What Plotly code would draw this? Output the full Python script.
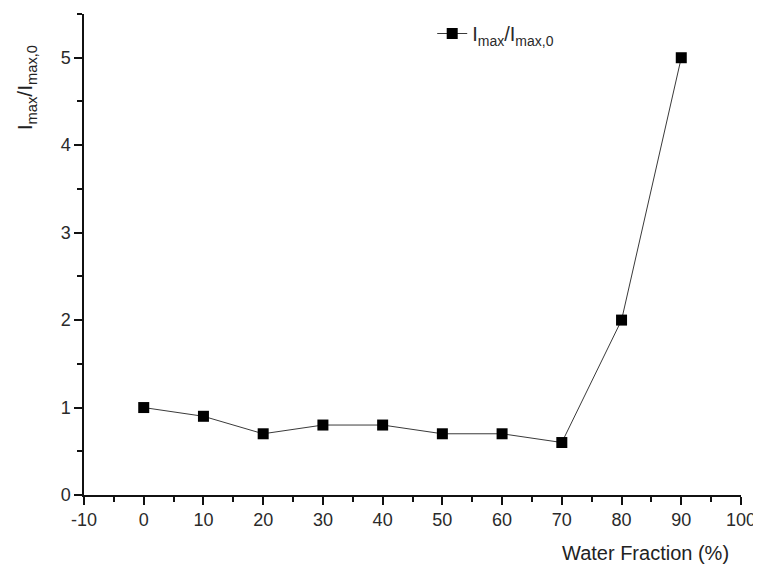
import plotly.graph_objects as go

water_fraction = [0, 10, 20, 30, 40, 50, 60, 70, 80, 90]
intensity_ratio = [1.0, 0.9, 0.7, 0.8, 0.8, 0.7, 0.7, 0.6, 2.0, 5.0]
series_name = "I<sub>max</sub>/I<sub>max,0</sub>"
x_ticks = [-10, 0, 10, 20, 30, 40, 50, 60, 70, 80, 90, 100]
x_tick_text = ["-10", "0", "10", "20", "30", "40", "50", "60", "70", "80", "90", "100"]
y_ticks = [0, 1, 2, 3, 4, 5]

fig = go.Figure()
fig.add_trace(go.Scatter(
    x=water_fraction, y=intensity_ratio, mode="lines+markers",
    name=series_name,
    line=dict(color="#3a3a3a", width=1),
    marker=dict(symbol="square", size=11, color="black"),
))

font_family = "Liberation Sans, Arial, sans-serif"
fig.update_layout(
    width=761, height=572,
    # page body adds an 8px offset; margins compensate for it
    margin=dict(l=76, r=28, t=6, b=85),
    plot_bgcolor="white", paper_bgcolor="white",
    font=dict(family=font_family, size=18, color="#2a2a2a"),
    showlegend=True,
    legend=dict(x=0.53, y=1.0, xanchor="left", yanchor="top",
                bgcolor="rgba(0,0,0,0)", font=dict(size=20)),
    xaxis=dict(range=[-10, 100], tickvals=x_ticks, ticktext=x_tick_text,
               ticks="outside", ticklen=8, automargin=False,
               tickwidth=1.5, showline=True, linecolor="#111", linewidth=1.5,
               showgrid=False, zeroline=False, tickcolor="#111",
               minor=dict(ticks="outside", ticklen=5, dtick=5, tick0=-5,
                          tickcolor="#111", tickwidth=1.5, showgrid=False)),
    yaxis=dict(range=[0, 5.5], tickvals=y_ticks, ticks="outside", ticklen=8,
               automargin=False,
               tickwidth=1.5, showline=True, linecolor="#111", linewidth=1.5,
               showgrid=False, zeroline=False, tickcolor="#111",
               minor=dict(ticks="outside", ticklen=5, dtick=0.5, tick0=0.5,
                          tickcolor="#111", tickwidth=1.5, showgrid=False)),
)

fig.add_annotation(text="I<sub>max</sub>/I<sub>max,0</sub>", xref="paper", yref="paper",
                   x=-0.088, y=0.846, xanchor="center", yanchor="middle",
                   textangle=-90, showarrow=False,
                   font=dict(size=21, color="#222"))
fig.add_annotation(text="Water Fraction (%)", xref="paper", yref="paper",
                   x=0.854, y=-0.121, xanchor="center", yanchor="middle",
                   showarrow=False,
                   font=dict(size=20, color="#222"))

fig.write_html("out.html")
